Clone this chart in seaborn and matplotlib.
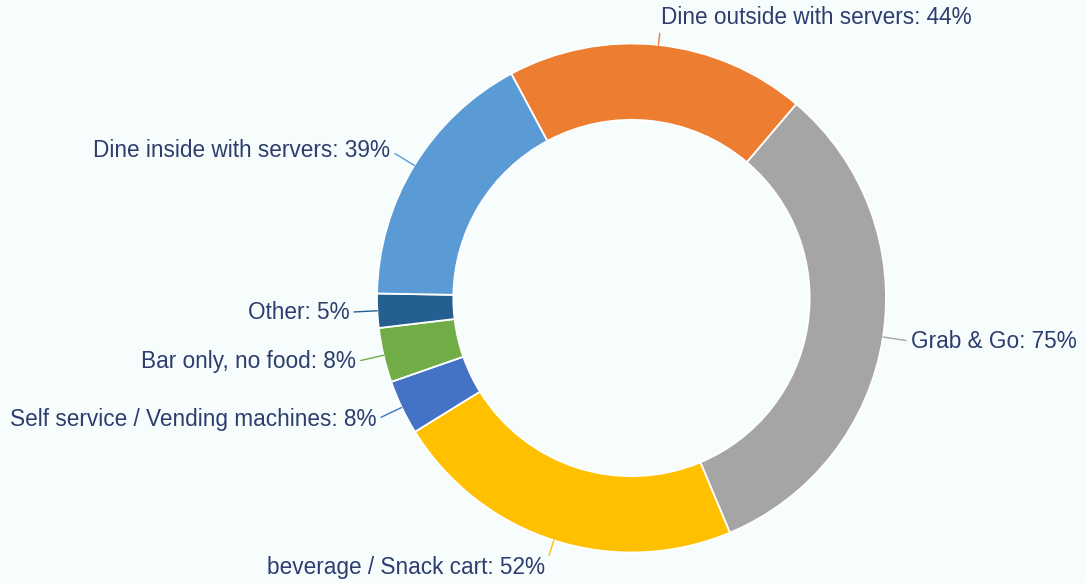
import numpy as np
import matplotlib
matplotlib.use("Agg")
import matplotlib.pyplot as plt
import seaborn as sns

# data (clockwise from the top)
labels = [
    "Dine outside with servers",
    "Grab & Go",
    "beverage / Snack cart",
    "Self service / Vending machines",
    "Bar only, no food",
    "Other",
    "Dine inside with servers",
]
values = [44, 75, 52, 8, 8, 5, 39]
colors = ["#ED7D31", "#A5A5A5", "#FFC000", "#4472C4", "#70AD47", "#255E91", "#5B9BD5"]

sns.set_theme(style="white")
plt.rcParams["font.family"] = ["Liberation Sans", "DejaVu Sans"]

BG = "#F7FDFD"
TEXT = "#2D3E6E"

fig = plt.figure(figsize=(10.85, 5.83), dpi=100, facecolor=BG)
ax = fig.add_axes([0, 0, 1, 1])
ax.set_facecolor(BG)

wedges, _ = ax.pie(
    values,
    colors=sns.color_palette(colors),
    startangle=118.2,
    counterclock=False,
    radius=1.0,
    wedgeprops=dict(width=0.30, edgecolor="white", linewidth=1.3),
)

# outside labels with leader lines
for w, lab, val, col in zip(wedges, labels, values, colors):
    ang = np.deg2rad((w.theta1 + w.theta2) / 2)
    x0, y0 = np.cos(ang), np.sin(ang)
    r_txt = 1.11
    right = x0 >= 0
    ax.annotate(
        f"{lab}: {val}%",
        xy=(x0 * 1.0, y0 * 1.0),
        xytext=(x0 * r_txt, y0 * r_txt),
        ha="left" if right else "right", va="center",
        fontsize=16.3, color=TEXT,
        arrowprops=dict(arrowstyle="-", color=col, lw=1.0,
                        shrinkA=1, shrinkB=0,
                        relpos=(0, 0.5) if right else (1, 0.5)),
    )

# map 1 unit = 254.5 px, centre at (631.5, 298) from top-left
R = 254.5
ax.set_xlim(-631.5 / R, (1085 - 631.5) / R)
ax.set_ylim(-(583 - 298) / R, 298 / R)
ax.set_aspect("auto")
ax.axis("off")

fig.savefig("out.png", dpi=100, facecolor=BG)
